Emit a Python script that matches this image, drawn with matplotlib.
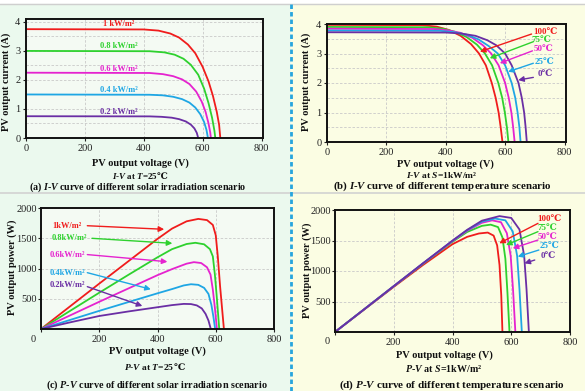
import matplotlib
matplotlib.use('Agg')
import matplotlib.pyplot as plt
from matplotlib.patches import Rectangle
from matplotlib.lines import Line2D

plt.rcParams['font.family'] = ['Liberation Serif', 'DejaVu Serif', 'DejaVu Sans']
plt.rcParams['mathtext.fontset'] = 'custom'
plt.rcParams['mathtext.rm'] = 'Liberation Serif:bold'
plt.rcParams['mathtext.it'] = 'Liberation Serif:italic:bold'
plt.rcParams['mathtext.bf'] = 'Liberation Serif:bold'

W, H = 585, 391
COLORS = ['#f01c1c', '#2ed12e', '#e523cf', '#1ea6e4', '#6a2ea4']

# (a) I-V curves, different irradiation, T = 25C
irr_labels = ['1 kW/m²', '0.8 kW/m²', '0.6 kW/m²', '0.4 kW/m²', '0.2 kW/m²']
iv_irr_volt = [
    [0, 400, 450, 490, 520, 550, 575, 600, 620, 635, 648, 656, 660],
    [0, 420, 470, 505, 535, 560, 585, 605, 620, 632, 640, 643],
    [0, 420, 465, 500, 530, 555, 578, 597, 610, 620, 626, 628],
    [0, 420, 465, 500, 530, 555, 575, 592, 605, 613, 618],
    [0, 420, 460, 495, 520, 543, 560, 572, 580, 585],
]
iv_irr_curr = [
    [3.75, 3.74, 3.70, 3.60, 3.46, 3.22, 2.92, 2.45, 1.95, 1.45, 0.90, 0.45, 0],
    [3.0, 2.99, 2.95, 2.87, 2.73, 2.52, 2.18, 1.70, 1.20, 0.70, 0.25, 0],
    [2.25, 2.24, 2.20, 2.13, 2.02, 1.86, 1.60, 1.25, 0.90, 0.50, 0.18, 0],
    [1.5, 1.49, 1.47, 1.42, 1.34, 1.22, 1.05, 0.82, 0.55, 0.28, 0],
    [0.75, 0.745, 0.73, 0.70, 0.65, 0.57, 0.46, 0.33, 0.18, 0],
]

# (b) I-V curves, different temperature, S = 1 kW/m2
temp_labels = ['100℃', '75℃', '50℃', '25℃', '0℃']
iv_temp_volt = [
    [0, 320, 370, 410, 450, 485, 512, 535, 555, 568, 578, 585, 591],
    [0, 340, 390, 430, 470, 505, 532, 556, 577, 590, 599, 606, 611],
    [0, 360, 410, 450, 490, 525, 553, 578, 600, 612, 621, 627, 632],
    [0, 380, 430, 470, 510, 545, 575, 600, 622, 634, 642, 648, 652],
    [0, 400, 450, 500, 540, 570, 600, 622, 645, 656, 664, 669, 673],
]
iv_temp_curr = [
    [3.97, 3.96, 3.91, 3.80, 3.60, 3.32, 3.0, 2.6, 2.0, 1.5, 1.0, 0.5, 0],
    [3.90, 3.89, 3.84, 3.74, 3.56, 3.30, 3.0, 2.6, 2.0, 1.5, 1.0, 0.5, 0],
    [3.84, 3.83, 3.78, 3.70, 3.53, 3.28, 3.0, 2.6, 2.0, 1.5, 1.0, 0.5, 0],
    [3.78, 3.77, 3.72, 3.64, 3.48, 3.25, 3.0, 2.6, 2.0, 1.5, 1.0, 0.5, 0],
    [3.72, 3.71, 3.68, 3.60, 3.45, 3.28, 3.0, 2.6, 2.0, 1.5, 1.0, 0.5, 0],
]

# (c) P-V curves, different irradiation, T = 25C
pv_irr_labels = ['1kW/m²', '0.8kW/m²', '0.6kW/m²', '0.4kW/m²', '0.2kW/m²']
pv_irr_volt = [
    [0, 100, 200, 300, 400, 450, 500, 540, 570, 590, 600, 607, 615, 628],
    [0, 100, 200, 300, 400, 450, 500, 530, 560, 580, 590, 597, 604, 612],
    [0, 100, 200, 300, 400, 450, 500, 525, 550, 570, 582, 590, 597, 604],
    [0, 100, 200, 300, 400, 450, 490, 515, 540, 560, 575, 585, 592, 598],
    [0, 100, 200, 300, 400, 450, 490, 515, 535, 552, 565, 575, 583],
]
pv_irr_power = [
    [0, 375, 750, 1120, 1490, 1660, 1780, 1820, 1800, 1720, 1550, 1200, 700, 0],
    [0, 300, 600, 895, 1185, 1320, 1405, 1425, 1400, 1320, 1200, 900, 500, 0],
    [0, 225, 450, 670, 890, 990, 1080, 1105, 1090, 1020, 900, 650, 350, 0],
    [0, 150, 300, 445, 590, 660, 720, 740, 730, 680, 580, 400, 200, 0],
    [0, 110, 215, 290, 360, 395, 415, 412, 390, 340, 250, 140, 0],
]

# (d) P-V curves, different temperature, S = 1 kW/m2
pv_temp_volt = [
    [0, 100, 200, 300, 400, 450, 490, 520, 540, 552, 560, 566, 570],
    [0, 100, 200, 300, 400, 450, 500, 530, 555, 570, 580, 587, 594],
    [0, 100, 200, 300, 400, 450, 500, 535, 565, 585, 598, 606, 614],
    [0, 100, 200, 300, 400, 450, 500, 545, 580, 605, 620, 628, 636],
    [0, 100, 200, 300, 400, 450, 500, 560, 600, 628, 644, 652, 660],
]
pv_temp_power = [
    [0, 370, 740, 1100, 1440, 1560, 1615, 1630, 1580, 1420, 1100, 600, 0],
    [0, 375, 750, 1120, 1480, 1640, 1740, 1760, 1720, 1550, 1200, 650, 0],
    [0, 375, 752, 1125, 1490, 1660, 1790, 1830, 1800, 1620, 1250, 700, 0],
    [0, 375, 752, 1127, 1495, 1670, 1810, 1860, 1830, 1650, 1250, 700, 0],
    [0, 375, 752, 1128, 1498, 1675, 1825, 1900, 1870, 1680, 1250, 700, 0],
]


def px_axes(fig, left, top, right, bottom):
    # axes box given in pixels of the 585x391 picture
    return fig.add_axes([left / W, 1 - bottom / H, (right - left) / W, (bottom - top) / H])


def style_axes(ax, face):
    ax.set_facecolor(face)
    for sp in ax.spines.values():
        sp.set_linewidth(1.4)
        sp.set_color('#111111')
    ax.tick_params(labelsize=7.5, length=2, width=0.8, pad=2, colors='#222222')
    ax.tick_params(which='minor', length=0)
    ax.grid(True, which='both', axis='y', ls=(0, (3, 2)), lw=0.6, color='#c9c9c9')
    ax.grid(True, which='major', axis='x', ls=(0, (3, 2)), lw=0.6, color='#c9c9c9')
    ax.set_axisbelow(True)


def fig_text(fig, x, y, s, size=7.5, **kw):
    fig.text(x / W, 1 - y / H, s, ha='center', va='center', fontsize=size,
             fontweight='bold', color='#111111', **kw)


def rich_title(fig, x, y, s, tail, size):
    # mathtext part plus a plain-text tail (the tail may hold a sign the math font lacks)
    r = fig.canvas.get_renderer()
    t1 = fig.text(0, 1 - y / H, s, ha='left', va='baseline', fontsize=size,
                  fontweight='bold', color='#111111')
    t2 = fig.text(0, 1 - y / H, tail, ha='left', va='baseline', fontsize=size,
                  fontweight='bold', color='#111111')
    w1 = t1.get_window_extent(r).width
    w2 = t2.get_window_extent(r).width
    x0 = x - (w1 + w2) / 2
    t1.set_x(x0 / W)
    t2.set_x((x0 + w1 - 1) / W)


def arrow(ax, start, tip, color):
    ax.annotate('', xy=tip, xytext=start,
                arrowprops=dict(arrowstyle='-|>', color=color, lw=1.0,
                                mutation_scale=8, shrinkA=0, shrinkB=0))


fig = plt.figure(figsize=(W / 100, H / 100), dpi=100)
fig.patch.set_facecolor('white')

# panel backgrounds and separators
fig.add_artist(Rectangle((0, 0), 290 / W, 1 - 3.5 / H, transform=fig.transFigure,
                         color='#ebf9ee', zorder=-10))
fig.add_artist(Rectangle((291 / W, 0), 1 - 291 / W, 1 - 3.5 / H, transform=fig.transFigure,
                         color='#fbfde3', zorder=-10))
fig.add_artist(Line2D([0, 1], [1 - 3.5 / H] * 2, color='#cfcfcf', lw=1.0))
fig.add_artist(Line2D([0, 1], [1 - 193 / H] * 2, color='#d2d2d2', lw=1.2))
fig.add_artist(Line2D([290.5 / W] * 2, [0, 1 - 3.5 / H], color='#27a5dd', lw=2.0,
                      ls=(0, (1.6, 1.1))))

# (a)
ax = px_axes(fig, 26, 19, 263, 138)
style_axes(ax, '#f4faf3')
for v, i, c in zip(iv_irr_volt, iv_irr_curr, COLORS):
    ax.plot(v, i, color=c, lw=1.3)
ax.set_xlim(0, 805)
ax.set_ylim(0, 4.1)
ax.set_xticks([0, 200, 400, 600, 800])
ax.set_yticks([0, 1, 2, 3, 4])
ax.set_yticks([0.5, 1.5, 2.5, 3.5], minor=True)
for lab, y, c in zip(irr_labels, [3.93, 3.16, 2.39, 1.64, 0.88], COLORS):
    ax.text(315, y, lab, color=c, fontsize=6, fontweight='bold', ha='center', va='center')
fig_text(fig, 6, 82, 'PV output current (A)', rotation=90)
fig_text(fig, 140, 163, 'PV output voltage (V)')
rich_title(fig, 140, 179, '$I$-$V$ at $T$=25', '℃', 6.5)
fig_text(fig, 138, 187.5, '(a) $I$-$V$ curve of different solar irradiation scenario', size=7.2)

# (b)
ax = px_axes(fig, 327, 24, 566, 142)
style_axes(ax, '#fbfde4')
for v, i, c in zip(iv_temp_volt, iv_temp_curr, COLORS):
    ax.plot(v, i, color=c, lw=1.3)
ax.set_xlim(0, 805)
ax.set_ylim(0, 4.0)
ax.set_xticks([0, 200, 400, 600, 800])
ax.set_yticks([0, 1, 2, 3, 4])
ax.set_yticks([0.5, 1.5, 2.5, 3.5], minor=True)
lab_pos = [(734, 3.72), (721, 3.46), (729, 3.14), (734, 2.72), (734, 2.30)]
arr_b = [((689, 3.66), (515, 3.06)), ((695, 3.40), (548, 2.84)),
         ((692, 3.09), (582, 2.67)), ((695, 2.67), (610, 2.38)),
         ((695, 2.19), (644, 2.10))]
for lab, p, (s, t), c in zip(temp_labels, lab_pos, arr_b, COLORS):
    ax.text(p[0], p[1], lab, color=c, fontsize=6.5, fontweight='bold', ha='center', va='center')
    arrow(ax, s, t, c)
fig_text(fig, 306, 82, 'PV output current (A)', rotation=90)
fig_text(fig, 445, 164, 'PV output voltage (V)')
fig_text(fig, 442, 175, '$I$-$V$ at $S$=1kW/m²', size=6.8)
fig_text(fig, 442, 186.5, '(b) $I$-$V$ curve of different temperature scenario', size=7.8)

# (c)
ax = px_axes(fig, 41, 208, 274, 329)
style_axes(ax, '#f4faf3')
for v, p, c in zip(pv_irr_volt, pv_irr_power, COLORS):
    ax.plot(v, p, color=c, lw=1.3)
ax.set_xlim(0, 800)
ax.set_ylim(0, 2000)
ax.set_xticks([0, 200, 400, 600, 800])
ax.set_xticklabels(['', '200', '400', '600', '800'])
ax.set_yticks([500, 1000, 1500, 2000])
ax.tick_params(axis='y', pad=1)
lab_pos = [(88, 1707), (96, 1499), (90, 1223), (90, 931), (90, 727)]
arr_c = [((159, 1707), (423, 1648)), ((175, 1499), (451, 1416)),
         ((159, 1230), (434, 1112)), ((159, 931), (377, 656)),
         ((159, 700), (348, 380))]
for lab, p, (s, t), c in zip(pv_irr_labels, lab_pos, arr_c, COLORS):
    ax.text(p[0], p[1], lab, color=c, fontsize=6, fontweight='bold', ha='center', va='center')
    arrow(ax, s, t, c)
fig.text(33 / W, 1 - 339 / H, '0', ha='center', va='center', fontsize=7.5, color='#222222')
fig_text(fig, 12, 267, 'PV output power (W)', rotation=90)
fig_text(fig, 157, 351, 'PV output voltage (V)')
rich_title(fig, 155, 370, '$P$-$V$ at $T$=25', '℃', 6.8)
fig_text(fig, 157, 385, '(c) $P$-$V$ curve of different solar irradiation scenario', size=7.3)

# (d)
ax = px_axes(fig, 335, 210, 570, 332)
style_axes(ax, '#fbfde4')
for v, p, c in zip(pv_temp_volt, pv_temp_power, COLORS):
    ax.plot(v, p, color=c, lw=1.3)
ax.set_xlim(0, 800)
ax.set_ylim(0, 2000)
ax.set_xticks([0, 200, 400, 600, 800])
ax.set_xticklabels(['', '200', '400', '600', '800'])
ax.set_yticks([500, 1000, 1500, 2000])
ax.tick_params(axis='y', pad=1)
lab_pos = [(731, 1852), (722, 1699), (725, 1552), (731, 1410), (725, 1251)]
arr_d = [((691, 1781), (559, 1454)), ((691, 1645), (582, 1426)),
         ((691, 1508), (605, 1372)), ((694, 1344), (622, 1235)),
         ((680, 1180), (645, 1126))]
for lab, p, (s, t), c in zip(temp_labels, lab_pos, arr_d, COLORS):
    ax.text(p[0], p[1], lab, color=c, fontsize=6.5, fontweight='bold', ha='center', va='center')
    arrow(ax, s, t, c)
fig.text(327 / W, 1 - 342 / H, '0', ha='center', va='center', fontsize=7.5, color='#222222')
fig_text(fig, 307, 270, 'PV output power (W)', rotation=90)
fig_text(fig, 444, 355, 'PV output voltage (V)')
fig_text(fig, 444, 368, '$P$-$V$ at $S$=1kW/m²', size=7.2)
fig_text(fig, 452, 385, '(d) $P$-$V$ curve of different temperature scenario', size=8)

fig.savefig('out.png', dpi=100)
